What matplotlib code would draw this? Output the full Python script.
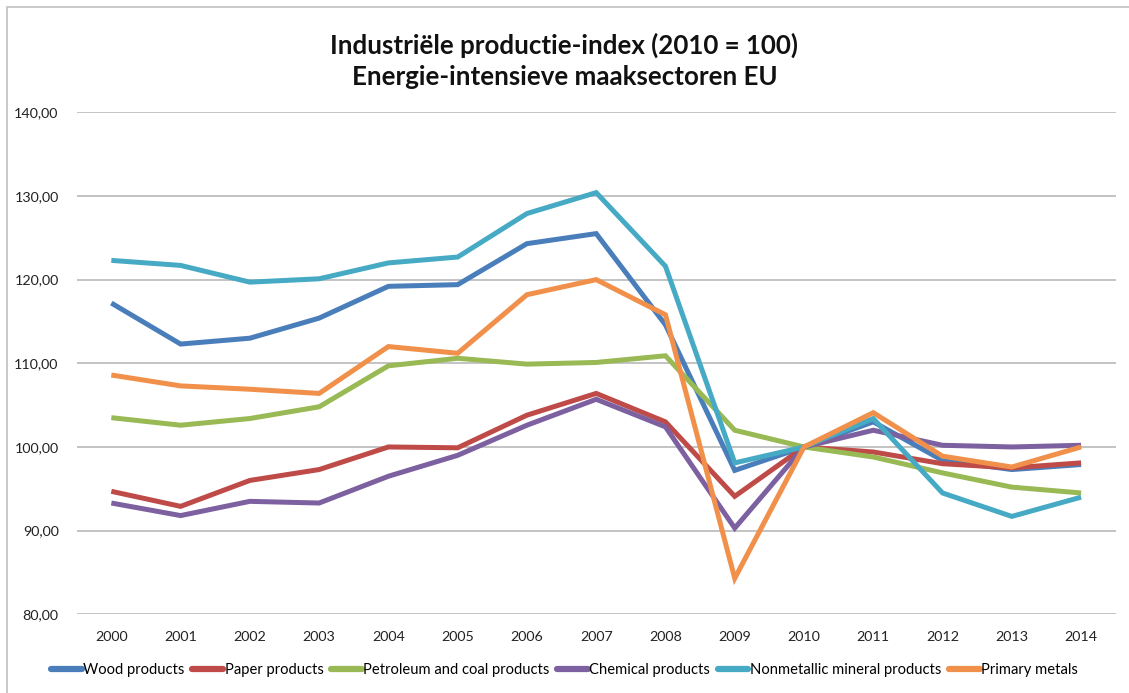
import matplotlib
matplotlib.use("Agg")
import matplotlib.pyplot as plt
from matplotlib.patches import Rectangle
from matplotlib.ticker import FuncFormatter

years = [str(y) for y in range(2000, 2015)]

wood = [117.2, 112.3, 113.0, 115.4, 119.2, 119.4, 124.3, 125.5, 114.6,
        97.2, 100.0, 103.0, 98.4, 97.3, 97.9]
paper = [94.7, 92.9, 96.0, 97.3, 100.0, 99.9, 103.8, 106.4, 103.0,
         94.1, 100.0, 99.4, 98.0, 97.5, 98.1]
petroleum = [103.5, 102.6, 103.4, 104.8, 109.7, 110.6, 109.9, 110.1, 110.9,
             102.0, 100.0, 98.8, 96.9, 95.2, 94.5]
chemical = [93.3, 91.8, 93.5, 93.3, 96.5, 99.0, 102.6, 105.7, 102.4,
            90.3, 100.0, 102.0, 100.2, 100.0, 100.2]
nonmetallic = [122.3, 121.7, 119.7, 120.1, 122.0, 122.7, 127.9, 130.4, 121.6,
               98.1, 100.0, 103.4, 94.5, 91.7, 94.0]
primary_metals = [108.6, 107.3, 106.9, 106.4, 112.0, 111.2, 118.2, 120.0, 115.8,
                  84.3, 100.0, 104.1, 98.9, 97.6, 100.0]

series_names = ["Wood products", "Paper products", "Petroleum and coal products",
                "Chemical products", "Nonmetallic mineral products", "Primary metals"]
series_values = [wood, paper, petroleum, chemical, nonmetallic, primary_metals]
series_colors = ["#4A7EBB", "#BE4B48", "#98B954", "#7D60A0", "#46AAC5", "#F0904A"]

title_lines = ["Industriële productie-index (2010 = 100)",
               "Energie-intensieve maaksectoren EU"]

FONT = "Lato"
W, H = 1129, 693
fig = plt.figure(figsize=(W / 100, H / 100), dpi=100)
fig.patch.set_facecolor("white")

# outer chart frame (runs off the right and bottom edges)
fig.patches.append(Rectangle((7 / W, -0.05), 1.2, 1 - 7 / H + 0.05,
                             transform=fig.transFigure, fill=False,
                             edgecolor="#c0c0c0", linewidth=1.2))

left, right = 76.7 / W, 1115.7 / W
bottom, top = 1 - 614.3 / H, 1 - 112.3 / H
ax = fig.add_axes([left, bottom, right - left, top - bottom])

x = list(range(len(years)))
for name, vals, col in zip(series_names, series_values, series_colors):
    ax.plot(x, vals, color=col, linewidth=3.6, label=name,
            solid_joinstyle="miter", solid_capstyle="butt", zorder=3)

ax.set_xlim(-0.5, len(years) - 0.5)
ax.set_ylim(80, 140)
ax.set_yticks(range(80, 141, 10))
ax.yaxis.set_major_formatter(FuncFormatter(lambda v, p: f"{v:.2f}".replace(".", ",")))
ax.set_xticks(x)
ax.set_xticklabels(years)

ax.grid(axis="y", color="#b3b3b3", linewidth=1.1, zorder=0)
ax.set_axisbelow(True)
for s in ax.spines.values():
    s.set_visible(False)
ax.tick_params(axis="both", length=0, labelsize=10.3, colors="#222222")
ax.tick_params(axis="y", pad=13)
ax.tick_params(axis="x", pad=12)
for lbl in ax.get_xticklabels() + ax.get_yticklabels():
    lbl.set_fontfamily(FONT)

fig.text(0.5, 1 - 45 / H, title_lines[0], ha="center", va="center",
         fontsize=18.6, fontweight="bold", fontfamily=FONT, color="#111111")
fig.text(0.5, 1 - 77 / H, title_lines[1], ha="center", va="center",
         fontsize=18.6, fontweight="bold", fontfamily=FONT, color="#111111")

leg = fig.legend(loc="center", bbox_to_anchor=(0.5, 1 - 670 / H), ncol=6,
                 frameon=False, handlelength=2.1, handletextpad=0.1,
                 columnspacing=0.5, prop={"family": FONT, "size": 10.6})
for line in leg.get_lines():
    line.set_linewidth(4.5)
    line.set_solid_capstyle("round")

fig.savefig("out.png", dpi=100)
